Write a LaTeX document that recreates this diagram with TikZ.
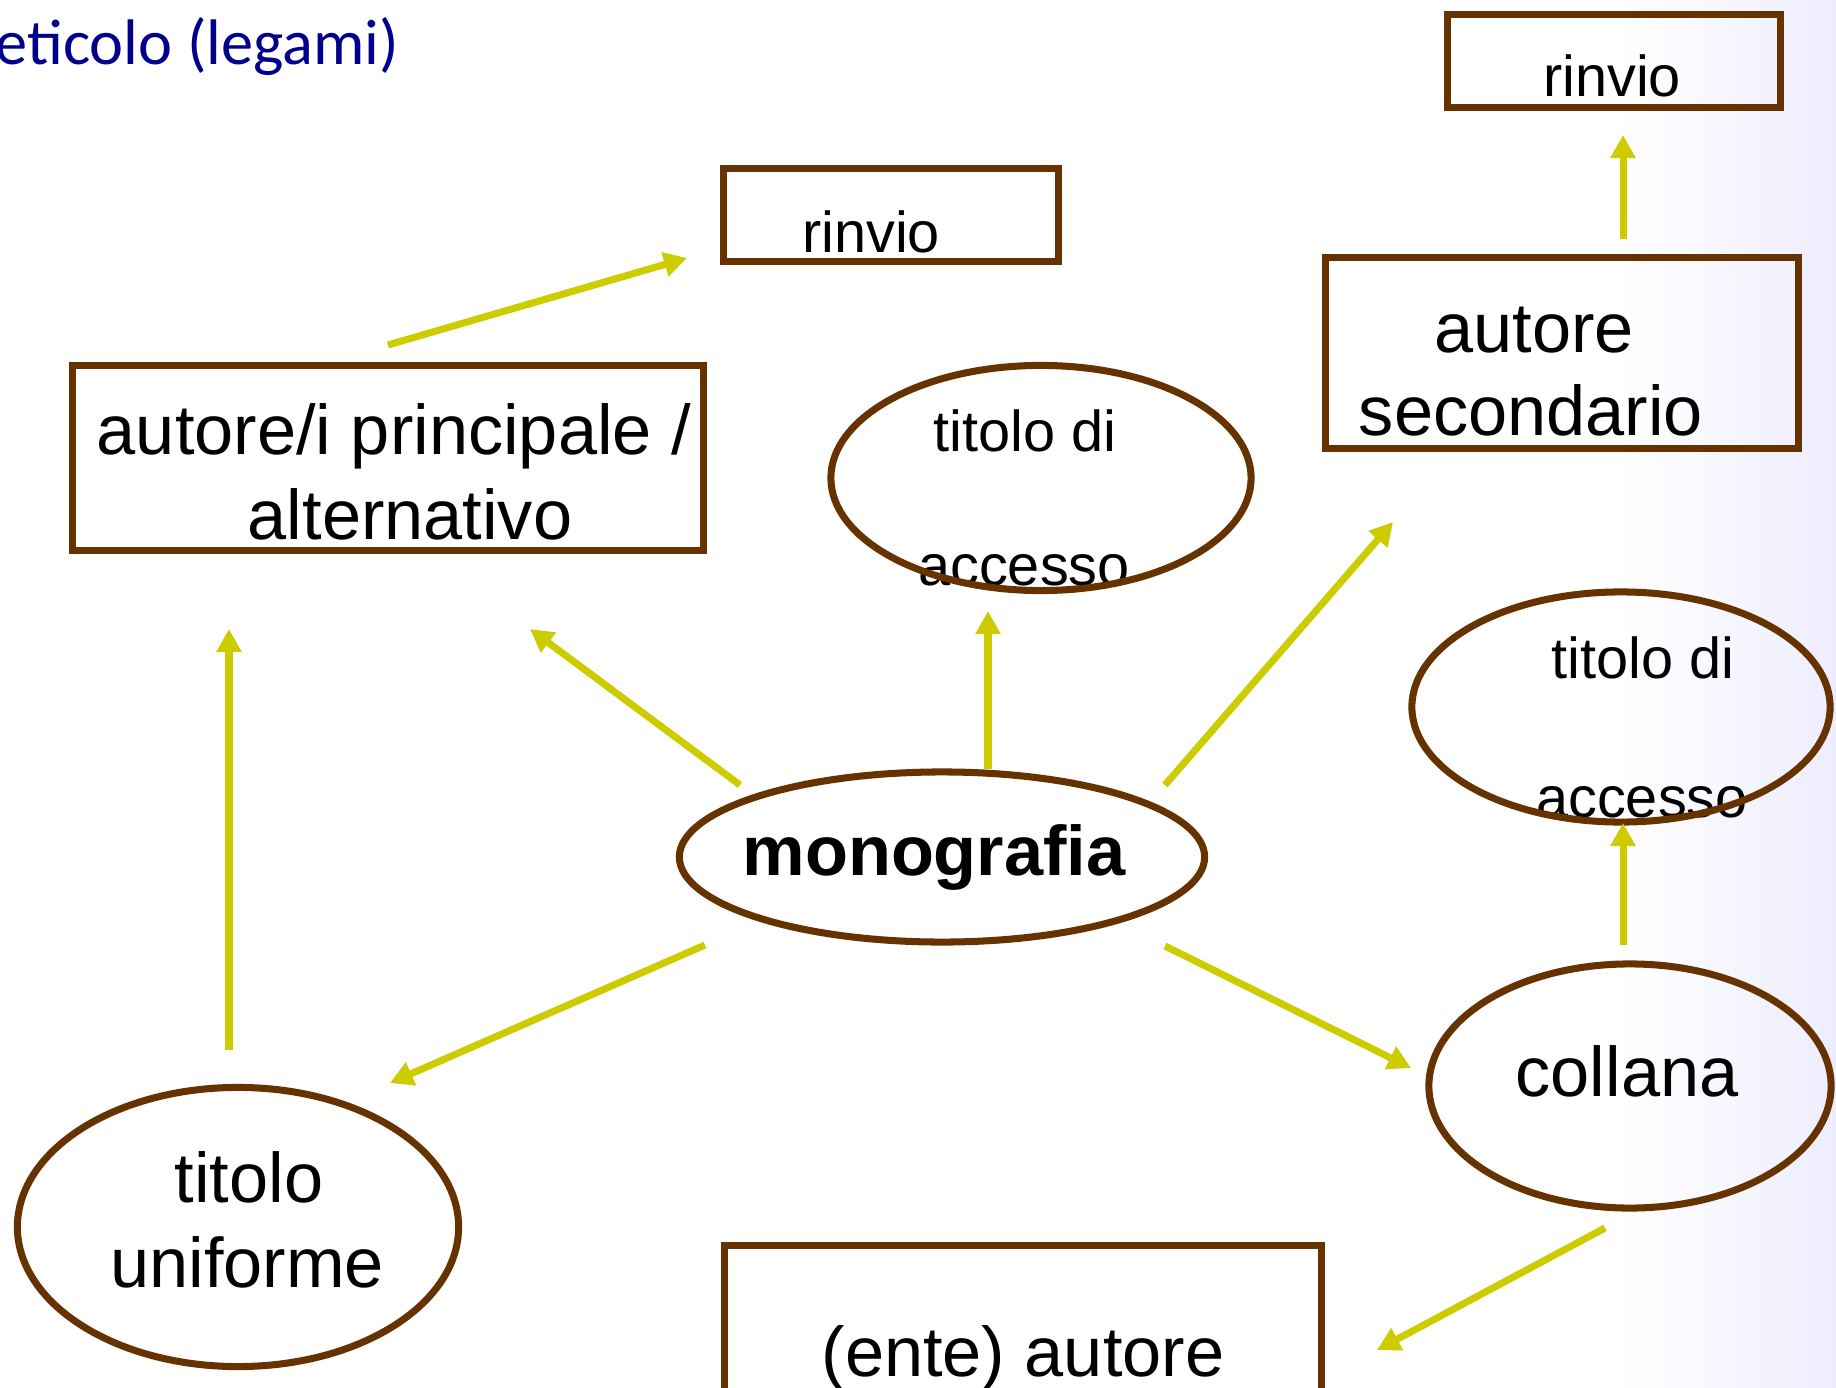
\documentclass[tikz,border=0pt]{standalone}
\usepackage{fontspec}
\setmainfont{Liberation Sans}
\newfontfamily\titlefont{Carlito}
\usetikzlibrary{arrows.meta,shapes.geometric,calc}
\definecolor{brownline}{RGB}{102,51,0}
\definecolor{arrowc}{RGB}{204,204,0}
\definecolor{titleblue}{RGB}{0,0,140}
\begin{document}
\begin{tikzpicture}[x=0.01cm,y=-0.01cm,
  boxnode/.style={draw=brownline,line width=2pt,rectangle,inner sep=0pt,outer sep=0pt},
  ellnode/.style={draw=brownline,line width=2pt,ellipse,inner sep=0pt,outer sep=0pt},
  lbl/.style={anchor=base,inner sep=0pt,font=\fontsize{20}{24}\selectfont},
  slbl/.style={anchor=base,inner sep=0pt,font=\fontsize{16.4}{20}\selectfont},
  arr/.style={draw=arrowc,line width=2pt,-{Triangle[width=0.24cm,length=0.23cm]}}]
\useasboundingbox (0,0) rectangle (1836,1388);
\clip (0,0) rectangle (1836,1388);
\shade[left color=white,right color=blue!7!white] (1620,0) rectangle (1836,1388);
% title
\node[anchor=base west,inner sep=0pt,text=titleblue,font=\titlefont\fontsize{18.3}{22}\selectfont] (title) at (-5,65) {eticolo (legami)};
% labels
\node[slbl] (tRinvA) at (871,252) {rinvio};
\node[slbl] (tRinvB) at (1612,97) {rinvio};
\node[lbl] (tAut) at (1534,352) {autore};
\node[lbl] (tSec) at (1531,435) {secondario};
\node[lbl] (tAp1) at (394,454) {autore/i principale /};
\node[lbl] (tAp2) at (410,539) {alternativo};
\node[slbl] (tTa1) at (1025,451) {titolo di};
\node[slbl] (tTa2) at (1024,585) {accesso};
\node[lbl,font=\fontsize{20}{24}\selectfont\bfseries] (tMono) at (934,875) {monografia};
\node[slbl] (tTb1) at (1643,678) {titolo di};
\node[slbl] (tTb2) at (1642,817) {accesso};
\node[lbl] (tColl) at (1627,1096) {collana};
\node[lbl] (tTu1) at (249,1202) {titolo};
\node[lbl] (tTu2) at (247,1287) {uniforme};
\node[lbl] (tEnte) at (1023,1376) {(ente) autore};
% shapes
\node[boxnode,minimum width=3.34cm,minimum height=0.92cm] (rinvA) at (891,215) {};
\node[boxnode,minimum width=3.33cm,minimum height=0.92cm] (rinvB) at (1614,61) {};
\node[boxnode,minimum width=4.73cm,minimum height=1.91cm] (autsec) at (1562,353) {};
\node[boxnode,minimum width=6.30cm,minimum height=1.85cm] (autpr) at (388,458) {};
\node[boxnode,minimum width=5.96cm,minimum height=2.40cm] (ente) at (1023,1366) {};
\node[ellnode,minimum width=4.20cm,minimum height=2.25cm] (tacA) at (1041,478) {};
\node[ellnode,minimum width=5.25cm,minimum height=1.70cm] (mono) at (942,857) {};
\node[ellnode,minimum width=4.18cm,minimum height=2.30cm] (tacB) at (1621,707) {};
\node[ellnode,minimum width=4.02cm,minimum height=2.44cm] (coll) at (1630,1086) {};
\node[ellnode,minimum width=4.41cm,minimum height=2.79cm] (tunif) at (238,1227) {};
% connectors
\draw[arr] ($(autpr)+(0,-113)$) -- ($(rinvA)+(-204,43)$);
\draw[arr] ($(autsec)+(61,-114)$) -- ($(rinvB)+(9,74)$);
\draw[arr] ($(mono)+(-202,-72)$) -- ($(autpr)+(142,171)$);
\draw[arr] ($(mono)+(46,-88)$) -- ($(tacA)+(-53,133)$);
\draw[arr] ($(mono)+(223,-72)$) -- ($(autsec)+(-169,169)$);
\draw[arr] ($(mono)+(-237,88)$) -- ($(tunif)+(152,-144)$);
\draw[arr] ($(tunif)+(-9,-177)$) -- ($(autpr)+(-159,171)$);
\draw[arr] ($(mono)+(223,89)$) -- ($(coll)+(-219,-18)$);
\draw[arr] ($(coll)+(-7,-141)$) -- ($(tacB)+(2,116)$);
\draw[arr] ($(coll)+(-25,142)$) -- ($(ente)+(354,-16)$);
\end{tikzpicture}
\end{document}
